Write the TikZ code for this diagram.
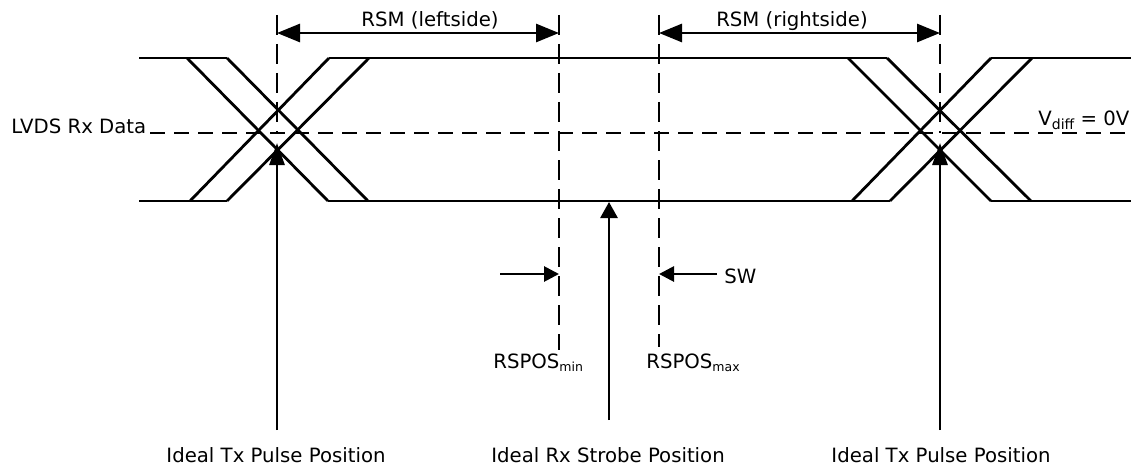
\documentclass[tikz,border=0pt]{standalone}
\usepackage{fontspec}
\setmainfont{DejaVu Sans}
\usetikzlibrary{arrows.meta}
\begin{document}
\begin{tikzpicture}[x=1pt,y=-1pt,line width=2.8pt,
  sig/.style={line width=2.8pt},
  vdash/.style={line width=2.8pt,dash pattern=on 20pt off 9pt},
  hdash/.style={line width=2.8pt,dash pattern=on 15pt off 9pt},
  arr/.style={-{Triangle[length=22pt,width=15pt]}},
  sarr/.style={-{Triangle[length=16pt,width=17pt]}},
  swarr/.style={-{Triangle[length=15pt,width=15pt]}},
  darr/.style={{Triangle[length=23pt,width=18pt]}-{Triangle[length=23pt,width=18pt]}},
  lbl/.style={font=\fontsize{19.7}{22}\selectfont,inner sep=0pt}]
\useasboundingbox (0,0) rectangle (1131,468);
% signal lines
\draw[sig] (139,58) -- (227,58);
\draw[sig] (139,201) -- (227,201);
\draw[sig] (187,58) -- (328,201);
\draw[sig] (227,58) -- (368,201);
\draw[sig] (190,201) -- (329,58);
\draw[sig] (227,201) -- (369,58);
\draw[sig] (329,58) -- (887,58);
\draw[sig] (328,201) -- (890,201);
\draw[sig] (848,58) -- (991,201);
\draw[sig] (887,58) -- (1031,201);
\draw[sig] (852,201) -- (991,58);
\draw[sig] (890,201) -- (1032,58);
\draw[sig] (991,58) -- (1131,58);
\draw[sig] (991,201) -- (1131,201);
% labels
\node[lbl,anchor=base west] (lvds) at (10,133) {LVDS Rx Data};
\node[lbl,anchor=base west] (vdiff) at (1037,125) {V\raisebox{-4pt}{\fontsize{14}{14}\selectfont diff} = 0V};
\node[lbl,anchor=base] (rsml) at (430,27) {RSM (leftside)};
\node[lbl,anchor=base] (rsmr) at (792,27) {RSM (rightside)};
\node[lbl,anchor=west] (sw) at (723,276) {SW};
\node[lbl,anchor=base west] (rmin) at (492,368) {RSPOS\raisebox{-3pt}{\fontsize{12.5}{13}\selectfont min}};
\node[lbl,anchor=base west] (rmax) at (645,368) {RSPOS\raisebox{-3pt}{\fontsize{12.5}{13}\selectfont max}};
\node[lbl,anchor=base] (txl) at (276,462) {Ideal Tx Pulse Position};
\node[lbl,anchor=base] (rxs) at (608,462) {Ideal Rx Strobe Position};
\node[lbl,anchor=base] (txr) at (941,462) {Ideal Tx Pulse Position};
% coordinates
\coordinate (h0) at (150,133);
\coordinate (h1) at (1131,133);
\coordinate (vlT) at (277,15);  \coordinate (vlB) at (277,133);
\coordinate (vminT) at (559,15); \coordinate (vminB) at (559,350);
\coordinate (vmaxT) at (659,15); \coordinate (vmaxB) at (659,347);
\coordinate (vrT) at (940,15);  \coordinate (vrB) at (940,133);
\coordinate (txlS) at (277,430); \coordinate (txlE) at (277,143);
\coordinate (rxS) at (609,420);  \coordinate (rxE) at (609,202);
\coordinate (txrS) at (940,430); \coordinate (txrE) at (940,143);
\coordinate (rsmlA) at (277,33); \coordinate (rsmlB) at (559,33);
\coordinate (rsmrA) at (659,33); \coordinate (rsmrB) at (940,33);
\coordinate (swlS) at (500,274); \coordinate (swlE) at (559,274);
\coordinate (swrS) at (717,274); \coordinate (swrE) at (659,274);
% dashed lines
\draw[hdash] (h0) -- (h1);
\draw[vdash] (vlT) -- (vlB);
\draw[vdash] (vminT) -- (vminB);
\draw[vdash] (vmaxT) -- (vmaxB);
\draw[vdash] (vrT) -- (vrB);
% arrows
\draw[arr] (txlS) -- (txlE);
\draw[sarr] (rxS) -- (rxE);
\draw[arr] (txrS) -- (txrE);
\draw[darr] (rsmlA) -- (rsmlB);
\draw[darr] (rsmrA) -- (rsmrB);
\draw[swarr] (swlS) -- (swlE);
\draw[swarr] (swrS) -- (swrE);
\end{tikzpicture}
\end{document}
